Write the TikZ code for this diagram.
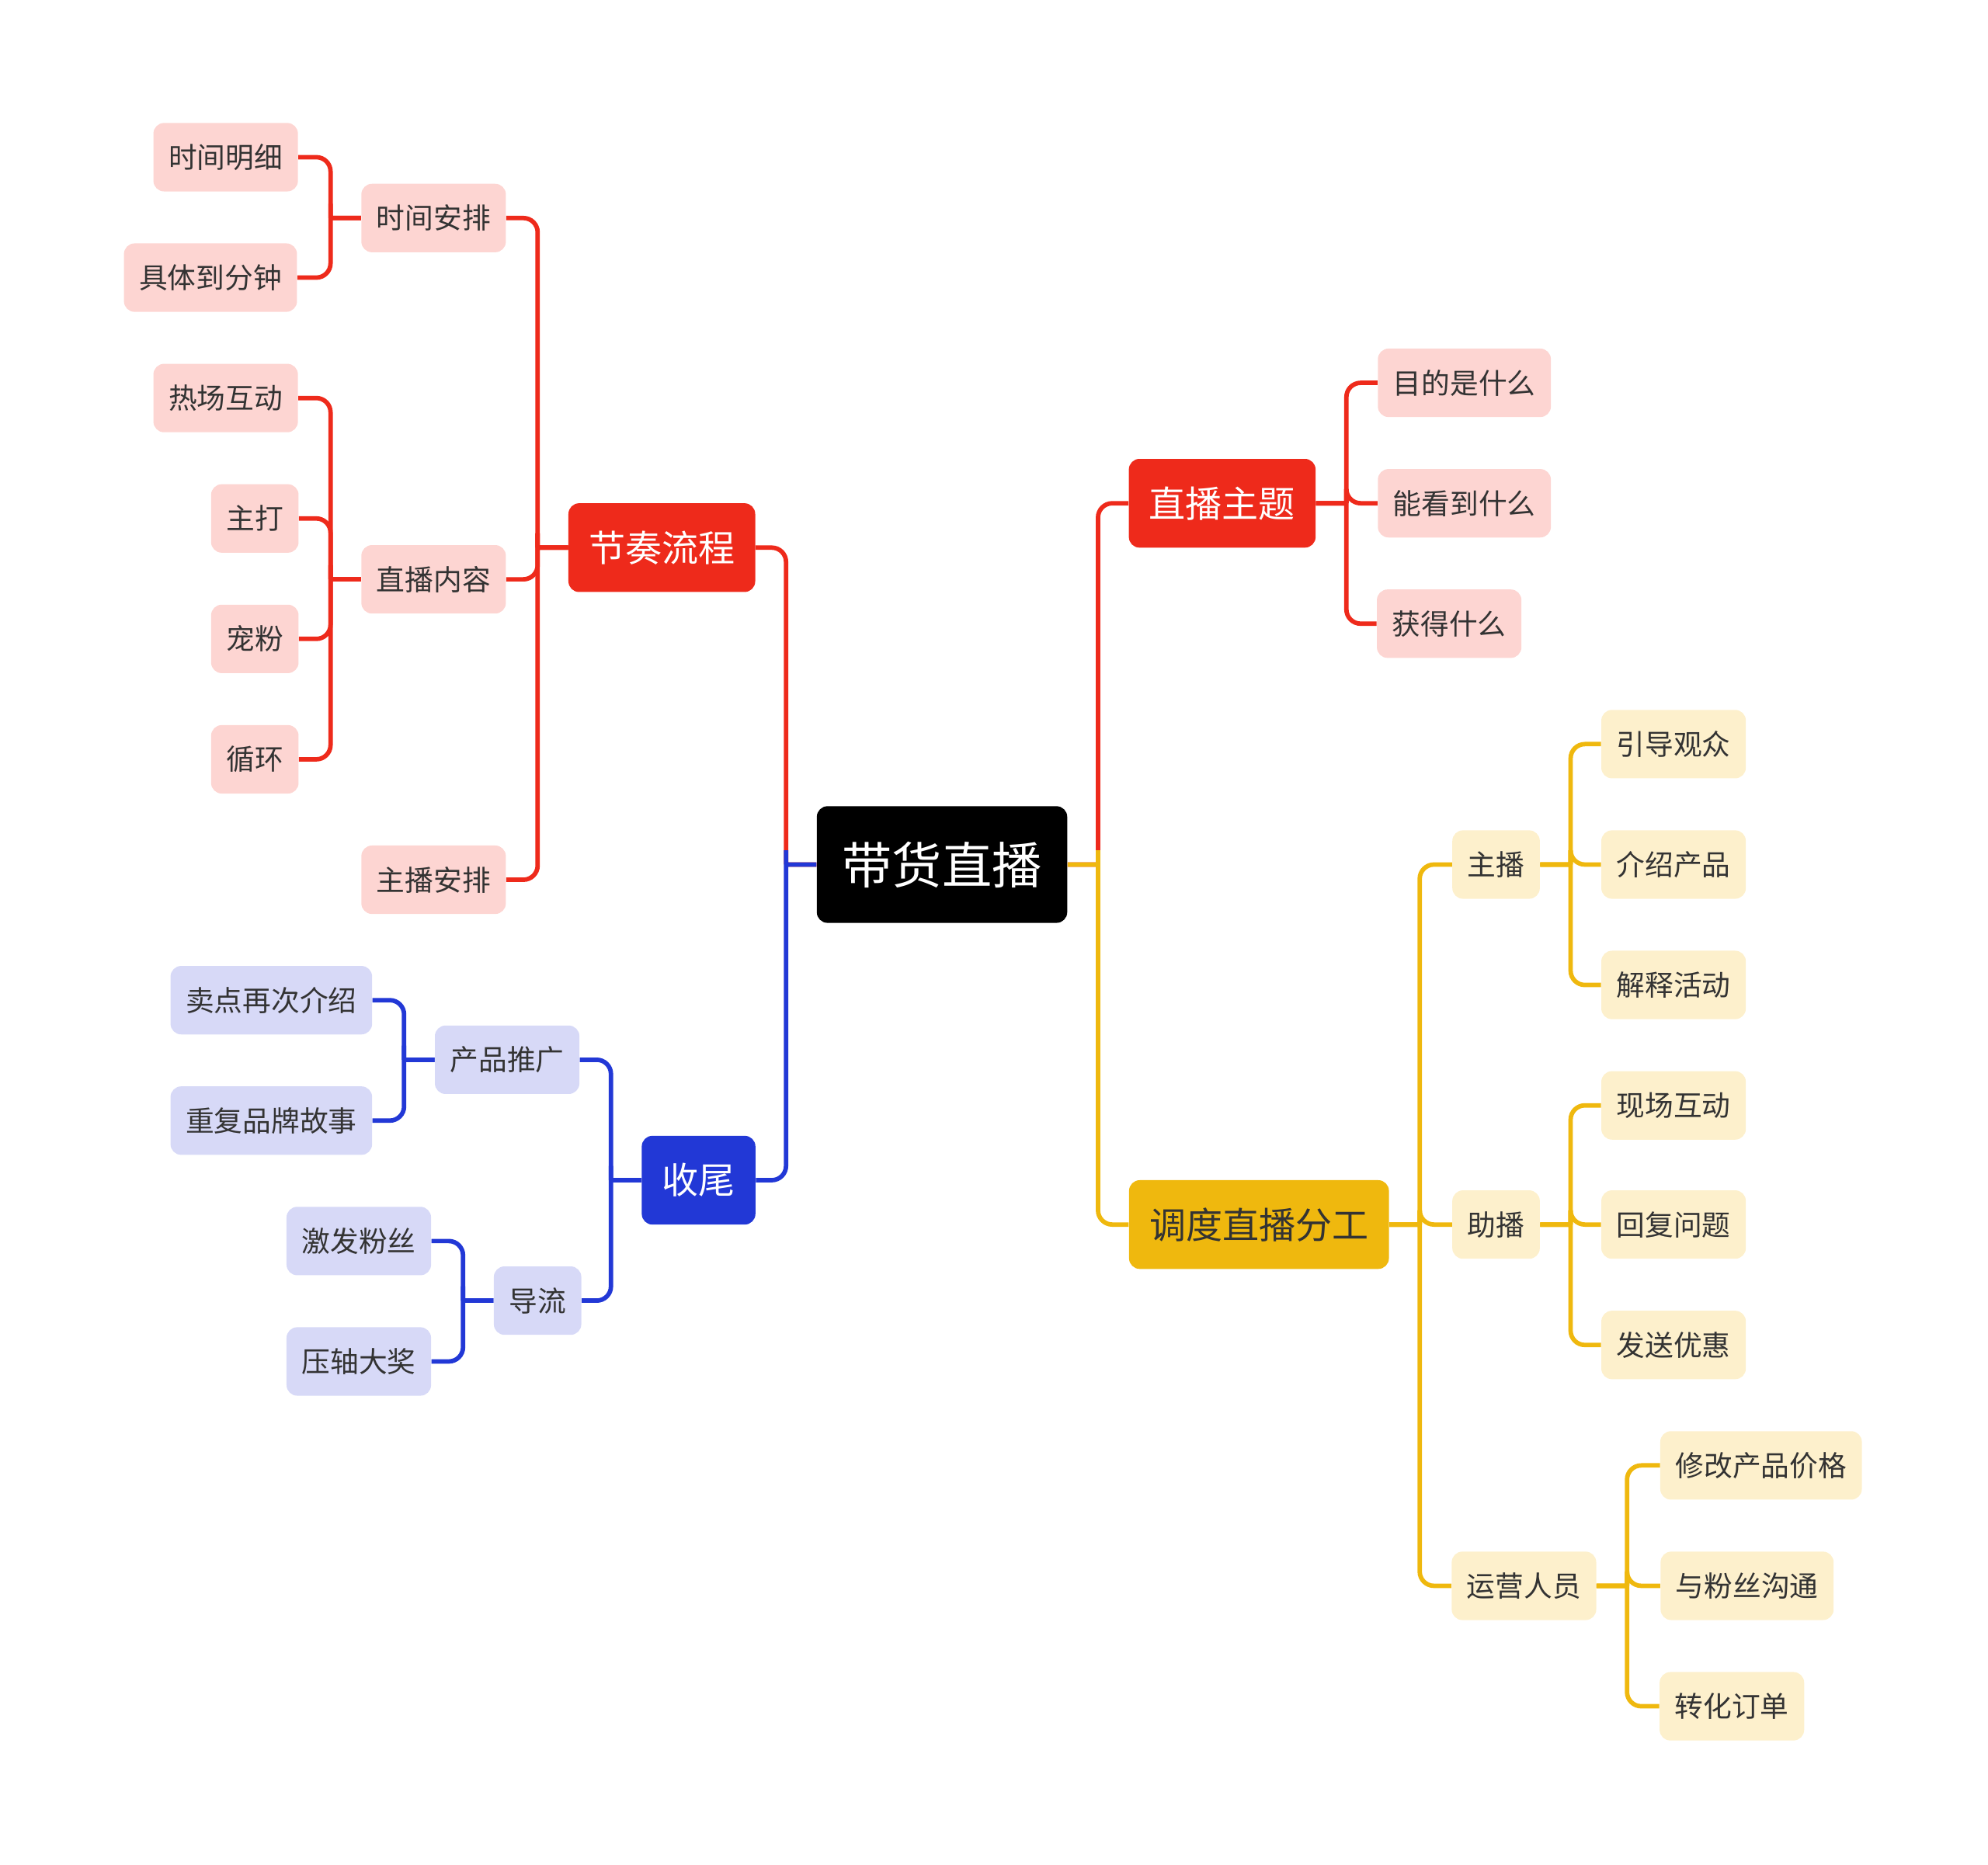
\documentclass[tikz,border=0pt]{standalone}
\usepackage{fontspec}
\setmainfont{Noto Sans CJK SC}
\definecolor{cred}{HTML}{EE2A1B}
\definecolor{cblue}{HTML}{2238D6}
\definecolor{cyel}{HTML}{EFB80E}
\definecolor{lred}{HTML}{FDD5D2}
\definecolor{lblue}{HTML}{D7D9F7}
\definecolor{lyel}{HTML}{FDF0CC}
\definecolor{ink}{HTML}{333333}
\tikzset{
  box/.style={rounded corners=6pt, inner xsep=0.3cm, minimum height=1.35cm,
    font=\fontsize{16}{18}\selectfont, text=ink},
  topic/.style={box, minimum height=1.75cm, inner xsep=0.4cm,
    font=\fontsize{20.5}{24}\selectfont, text=white},
  link/.style={line width=2.5pt, rounded corners=8pt},
}
\begin{document}
\begin{tikzpicture}[x=0.025cm, y=-0.025cm]
\useasboundingbox (0,0) rectangle (1568,1471);
% root
\node[box, fill=black, text=white, minimum height=2.3cm, inner xsep=0.5cm,
  font=\fontsize{28}{32}\selectfont] (root) at (743,682) {带货直播};
% main topics
\node[topic, fill=cred] (rhythm) at (522,432) {节奏流程};
\node[topic, fill=cblue] (ending) at (551,931) {收尾};
\node[topic, fill=cred] (theme) at (964,397) {直播主题};
\node[topic, fill=cyel, text=ink] (duty) at (993,966) {调度直播分工};
% red leaves
\node[box, fill=lred] (timeplan) at (342,172) {时间安排};
\node[box, fill=lred] (content) at (342,457) {直播内容};
\node[box, fill=lred] (hostplan) at (342,694) {主播安排};
\node[box, fill=lred] (timedet) at (178,124) {时间明细};
\node[box, fill=lred] (minute) at (166,219) {具体到分钟};
\node[box, fill=lred] (warm) at (178,314) {热场互动};
\node[box, fill=lred] (main) at (201,409) {主打};
\node[box, fill=lred] (fans) at (201,504) {宠粉};
\node[box, fill=lred] (loop) at (201,599) {循环};
\node[box, fill=lred] (goal) at (1155,302) {目的是什么};
\node[box, fill=lred] (see) at (1155,397) {能看到什么};
\node[box, fill=lred] (gain) at (1143,492) {获得什么};
% blue leaves
\node[box, fill=lblue] (promo) at (400,836) {产品推广};
\node[box, fill=lblue] (guide) at (424,1026) {导流};
\node[box, fill=lblue] (again) at (214,789) {卖点再次介绍};
\node[box, fill=lblue] (story) at (214,884) {重复品牌故事};
\node[box, fill=lblue] (excite) at (283,979) {激发粉丝};
\node[box, fill=lblue] (prize) at (283,1074) {压轴大奖};
% yellow leaves
\node[box, fill=lyel] (anchor) at (1180,682) {主播};
\node[box, fill=lyel] (assist) at (1180,966) {助播};
\node[box, fill=lyel] (ops) at (1202,1251) {运营人员};
\node[box, fill=lyel] (lead) at (1320,587) {引导观众};
\node[box, fill=lyel] (intro) at (1320,682) {介绍产品};
\node[box, fill=lyel] (explain) at (1320,777) {解释活动};
\node[box, fill=lyel] (live) at (1320,872) {现场互动};
\node[box, fill=lyel] (reply) at (1320,966) {回复问题};
\node[box, fill=lyel] (coupon) at (1320,1061) {发送优惠};
\node[box, fill=lyel] (price) at (1389,1156) {修改产品价格};
\node[box, fill=lyel] (talk) at (1378,1251) {与粉丝沟通};
\node[box, fill=lyel] (order) at (1366,1346) {转化订单};
% left connectors
\foreach \p/\c/\col in {root/rhythm/cred, rhythm/timeplan/cred, rhythm/content/cred,
    rhythm/hostplan/cred, timeplan/timedet/cred, timeplan/minute/cred,
    content/warm/cred, content/main/cred, content/fans/cred, content/loop/cred,
    root/ending/cblue, ending/promo/cblue, ending/guide/cblue,
    promo/again/cblue, promo/story/cblue, guide/excite/cblue, guide/prize/cblue}
  \draw[link, \col] (\p.west) -- ++(-24,0) coordinate (j)
    (j) -- ++(0,0) |- (\c.east);
% right connectors
\foreach \p/\c/\col in {root/theme/cred, theme/goal/cred, theme/see/cred, theme/gain/cred,
    root/duty/cyel, duty/anchor/cyel, duty/assist/cyel, duty/ops/cyel,
    anchor/lead/cyel, anchor/intro/cyel, anchor/explain/cyel,
    assist/live/cyel, assist/reply/cyel, assist/coupon/cyel,
    ops/price/cyel, ops/talk/cyel, ops/order/cyel}
  \draw[link, \col] (\p.east) -- ++(24,0) coordinate (j)
    (j) -- ++(0,0) |- (\c.west);
\end{tikzpicture}
\end{document}
